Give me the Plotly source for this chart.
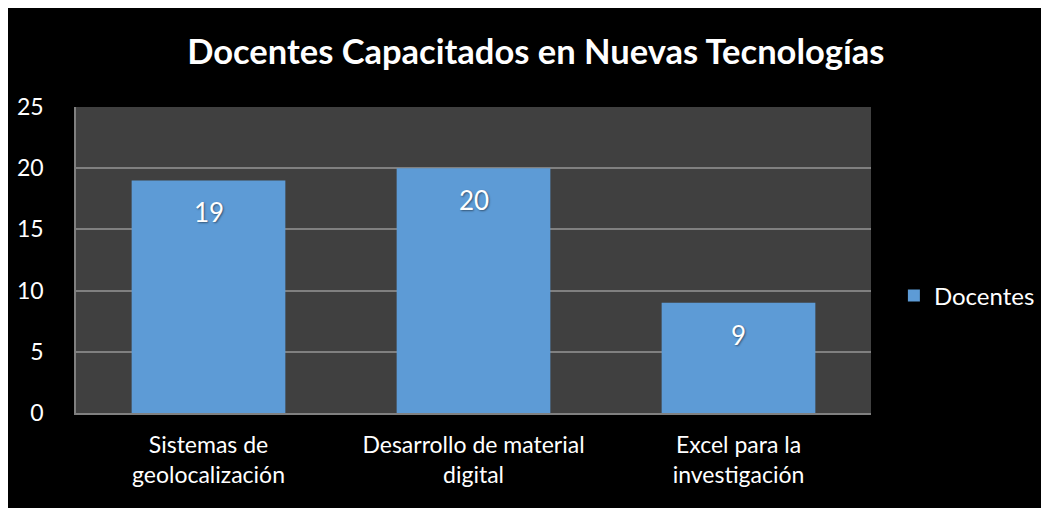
import plotly.graph_objects as go

categories = ["Sistemas de<br>geolocalización", "Desarrollo de material<br>digital", "Excel para la<br>investigación"]
values = [19, 20, 9]
series_name = "Docentes"
y_ticks = [0, 5, 10, 15, 20, 25]

FONT = "Lato, 'Open Sans', sans-serif"

fig = go.Figure()
fig.add_trace(go.Bar(
    x=categories, y=values, name=series_name,
    marker=dict(color="#5d9bd6", line=dict(width=0)),
    width=0.58,
))
for c, v in zip(categories, values):
    fig.add_annotation(x=c, y=v, text=str(v), showarrow=False, yanchor="middle",
                       yshift=-32, font=dict(color="white", size=26, family=FONT,
                                             shadow="1px 1px 2px rgba(0,0,0,0.45)"))

fig.update_layout(
    width=1041, height=500,
    paper_bgcolor="black", plot_bgcolor="#404040",
    margin=dict(l=68, r=178, t=99, b=95, autoexpand=False),
    title=dict(text="<b>Docentes Capacitados en Nuevas Tecnologías</b>", x=0.507, xanchor="center",
               y=1 - 44 / 500, yanchor="middle", font=dict(color="white", size=34.5, family=FONT)),
    font=dict(family=FONT, color="white", size=24),
    showlegend=True,
    legend=dict(xref="container", yref="container", x=0.851, y=0.424, xanchor="left", yanchor="middle",
                font=dict(size=24, color="white"), bgcolor="rgba(0,0,0,0)",
                itemwidth=30, borderwidth=0, tracegroupgap=0),
    bargap=0.42,
)
fig.update_yaxes(range=[0, 25], tickvals=y_ticks, showgrid=True, gridcolor="#808080", gridwidth=1.5,
                 zeroline=False, showline=True, linecolor="#808080", linewidth=1.5,
                 ticks="", ticklabelstandoff=26, tickfont=dict(size=23, color="white"))
fig.update_xaxes(showgrid=False, showline=True, linecolor="#808080", linewidth=1.5, mirror=False,
                 ticks="", ticklabelstandoff=11, tickfont=dict(size=23, color="white"))

fig.write_html("out.html")
